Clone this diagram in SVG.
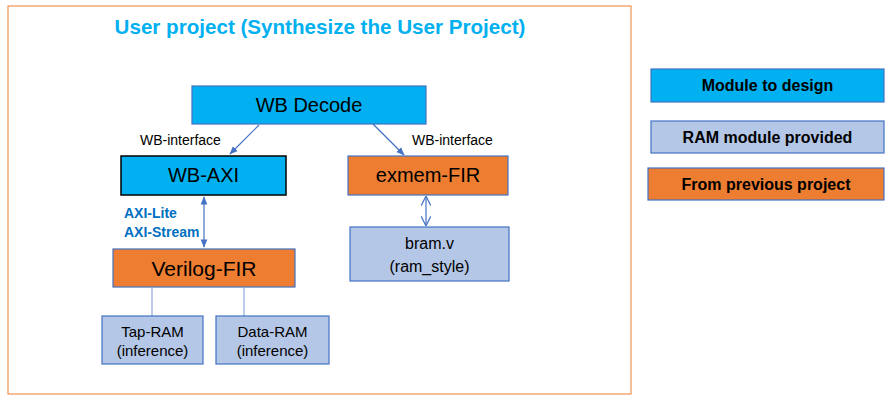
<svg xmlns="http://www.w3.org/2000/svg" width="894" height="403" viewBox="0 0 894 403">
<defs>
<style>
text{font-family:"Liberation Sans",Arial,sans-serif;fill:#000}
.cyan{fill:#00B0F0;stroke:#4472C4;stroke-width:1.2}
.ram{fill:#B4C7E7;stroke:#4472C4;stroke-width:1.2}
.org{fill:#ED7D31;stroke:#4472C4;stroke-width:1.2}
.big{font-size:20px;text-anchor:middle}
.mid{font-size:15px;text-anchor:middle}
.lbl{font-size:14px}
.leg{font-size:16px;font-weight:bold;text-anchor:middle}
.axi{font-size:14px;font-weight:bold;fill:#0070C0}
.con{stroke:#4472C4;stroke-width:1.2;fill:none}
.thin{stroke:#8FAADC;stroke-width:1.2;fill:none}
</style>
<marker id="ah" viewBox="0 0 10 10" refX="9" refY="5" markerWidth="7" markerHeight="7" orient="auto-start-reverse">
<path d="M0,1 L10,5 L0,9 Z" fill="#4472C4"/>
</marker>
<marker id="av" viewBox="0 0 10 10" refX="9" refY="5" markerWidth="8" markerHeight="8" orient="auto-start-reverse">
<path d="M0,0 L10,5 L0,10" fill="none" stroke="#4472C4" stroke-width="1.3"/>
</marker>
</defs>
<rect width="894" height="403" fill="#fff"/>
<g id="frame">
<rect x="8" y="6" width="623" height="388" fill="none" stroke="#ED7D31" stroke-width="1"/>
<text x="320" y="34" style="font-size:20.6px;font-weight:bold;fill:#00B0F0;text-anchor:middle">User project (Synthesize the User Project)</text>
</g>
<g id="connectors">
<line class="con" x1="259" y1="125" x2="230" y2="154" marker-end="url(#ah)"/>
<line class="con" x1="368" y1="119" x2="404" y2="155" marker-end="url(#ah)"/>
<line class="con" x1="204" y1="197" x2="204" y2="247" marker-start="url(#ah)" marker-end="url(#ah)"/>
<line class="con" x1="426" y1="197" x2="426" y2="225" marker-start="url(#av)" marker-end="url(#av)"/>
<line class="thin" x1="152" y1="288" x2="152" y2="316"/>
<line class="thin" x1="244" y1="288" x2="244" y2="316"/>
<text class="lbl" x="140" y="145">WB-interface</text>
<text class="lbl" x="412" y="145">WB-interface</text>
<text class="axi" x="124" y="218">AXI-Lite</text>
<text class="axi" x="124" y="237">AXI-Stream</text>
</g>
<g id="wb-decode">
<rect class="cyan" x="192" y="86" width="234" height="38"/>
<text class="big" x="309" y="112">WB Decode</text>
</g>
<g id="wb-axi">
<rect x="121" y="156" width="165" height="39" fill="#00B0F0" stroke="#000" stroke-width="1.5"/>
<text class="big" x="203.5" y="182">WB-AXI</text>
</g>
<g id="exmem-fir">
<rect class="org" x="348" y="156" width="160" height="39"/>
<text class="big" x="428" y="182">exmem-FIR</text>
</g>
<g id="bram">
<rect class="ram" x="350" y="227" width="159" height="54"/>
<text class="mid" x="429.5" y="249" style="font-size:16px">bram.v</text>
<text class="mid" x="429.5" y="272" style="font-size:16px">(ram_style)</text>
</g>
<g id="verilog-fir">
<rect class="org" x="113" y="249" width="182" height="38"/>
<text class="big" x="204" y="276" style="font-size:21px">Verilog-FIR</text>
</g>
<g id="tap-ram">
<rect class="ram" x="102" y="316" width="101" height="48"/>
<text class="mid" x="152.5" y="337">Tap-RAM</text>
<text class="mid" x="152.5" y="356">(inference)</text>
</g>
<g id="data-ram">
<rect class="ram" x="216" y="316" width="113" height="48"/>
<text class="mid" x="272.5" y="337">Data-RAM</text>
<text class="mid" x="272.5" y="356">(inference)</text>
</g>
<g id="legend-design">
<rect class="cyan" x="651" y="69" width="233" height="33"/>
<text class="leg" x="767.5" y="91">Module to design</text>
</g>
<g id="legend-ram">
<rect class="ram" x="651" y="121" width="233" height="32"/>
<text class="leg" x="767.5" y="143">RAM module provided</text>
</g>
<g id="legend-prev">
<rect class="org" x="648" y="168" width="236" height="32"/>
<text class="leg" x="766" y="190">From previous project</text>
</g>
</svg>
